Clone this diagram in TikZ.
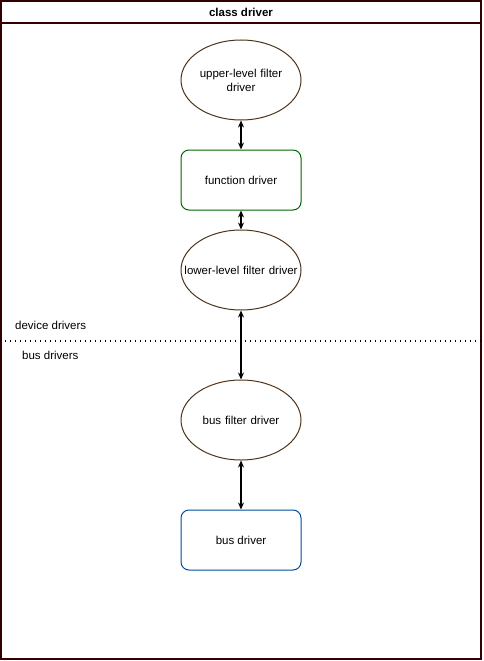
\documentclass[tikz,border=0pt]{standalone}
\usepackage{fontspec}
\setmainfont{Liberation Sans}
\usetikzlibrary{shapes.geometric,arrows.meta}
\definecolor{framec}{HTML}{330000}
\definecolor{ellc}{HTML}{4D3319}
\definecolor{greenc}{HTML}{006600}
\definecolor{bluec}{HTML}{004C99}
\begin{document}
\begin{tikzpicture}[x=1pt,y=-1pt,
  every node/.style={font=\fontsize{11.5}{14}\selectfont},
  ell/.style={ellipse,draw=ellc,line width=1pt,minimum width=120pt,minimum height=80pt,inner xsep=-25pt,inner ysep=0pt,align=center,text width=122pt},
  rbox/.style={rectangle,rounded corners=8pt,line width=1pt,minimum width=120pt,minimum height=60pt,inner sep=0pt,align=center},
  conn/.style={{Stealth[length=7pt,width=6pt]}-{Stealth[length=7pt,width=6pt]},line width=1.2pt}]
\useasboundingbox (0,0) rectangle (483,661);
\draw[framec,line width=1.2pt] (1,1) rectangle (481,659);
\draw[framec,line width=1.2pt] (1,23) -- (481,23);
\node[font=\bfseries\fontsize{11.5}{14}\selectfont] (title) at (241,12) {class driver};
\node[ell] (ulf) at (241,80) {upper-level filter\\driver};
\node[rbox,draw=greenc] (fd) at (241,180) {function driver};
\node[ell] (llf) at (241,270) {lower-level filter driver};
\node[ell] (bfd) at (241,420) {bus filter driver};
\node[rbox,draw=bluec] (bd) at (241,540) {bus driver};
\coordinate (dl) at (0,341);
\coordinate (dr) at (483,341);
\draw[line width=1.3pt,dash pattern=on 1pt off 4pt] (dl) -- (dr);
\node[anchor=west,inner sep=0pt] (dev) at (15,325) {device drivers};
\node[anchor=west,inner sep=0pt] (bus) at (22,355) {bus drivers};
\draw[conn] (ulf) -- (fd);
\draw[conn] (fd) -- (llf);
\draw[conn] (llf) -- (bfd);
\draw[conn] (bfd) -- (bd);
\end{tikzpicture}
\end{document}
